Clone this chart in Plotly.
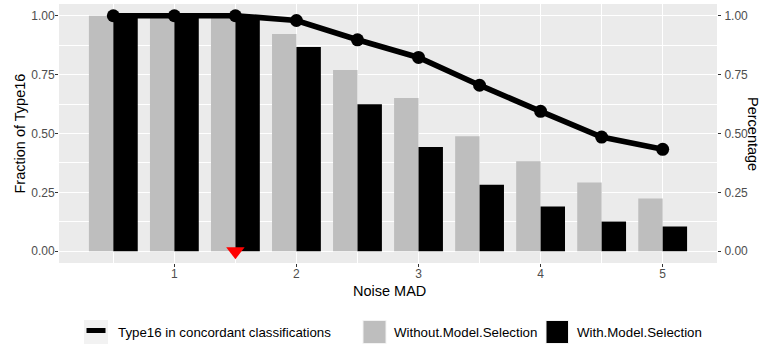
import plotly.graph_objects as go

# ---------------- data ----------------
noise_mad = [0.5, 1.0, 1.5, 2.0, 2.5, 3.0, 3.5, 4.0, 4.5, 5.0]
without_model_selection = [1.0, 1.0, 1.0, 0.923, 0.770, 0.651, 0.488, 0.382, 0.292, 0.224]
with_model_selection = [1.0, 1.0, 1.0, 0.867, 0.624, 0.443, 0.282, 0.190, 0.126, 0.105]
type16_concordant = [1.0, 1.0, 1.0, 0.980, 0.898, 0.823, 0.705, 0.594, 0.485, 0.433]
marker_x = [1.5]
marker_y = [0.0]
x_ticks = [1, 2, 3, 4, 5]
x_tick_labels = ["1", "2", "3", "4", "5"]
y_ticks = [0.0, 0.25, 0.5, 0.75, 1.0]
y_tick_labels = ["0.00", "0.25", "0.50", "0.75", "1.00"]
legend_labels = ["Type16 in concordant classifications", "Without.Model.Selection", "With.Model.Selection"]

# ---------------- layout constants ----------------
W, H = 762, 345
L, R, T, B = 59, 717, 4, 263
FONT = "Liberation Sans, Arial, Helvetica, sans-serif"
GRAY = "#BEBEBE"
PANEL = "#EBEBEB"
KEYBG = "#F2F2F2"


def px(x):
    return (x - L) / (R - L)


def py(y):
    return (B - y) / (B - T)


fig = go.Figure()
fig.add_trace(go.Bar(x=noise_mad, y=without_model_selection, marker=dict(color=GRAY, line=dict(width=0)),
                     name=legend_labels[1], showlegend=False))
fig.add_trace(go.Bar(x=noise_mad, y=with_model_selection, marker=dict(color="black", line=dict(width=0)),
                     name=legend_labels[2], showlegend=False))
fig.add_trace(go.Scatter(x=noise_mad, y=type16_concordant, mode="lines+markers",
                         line=dict(color="black", width=5.7), marker=dict(color="black", size=13),
                         name=legend_labels[0], showlegend=False, yaxis="y2"))
fig.add_trace(go.Scatter(x=marker_x, y=marker_y, mode="markers",
                         marker=dict(symbol="triangle-down", color="#FF0000", size=16, line=dict(width=0)),
                         showlegend=False, yaxis="y2"))

tickfont = dict(family=FONT, size=12, color="#4D4D4D")
common_y = dict(range=[-0.05, 1.05], tickvals=y_ticks, ticktext=y_tick_labels, ticks="outside",
                ticklen=3, tickwidth=1.1, tickcolor="#333333", tickfont=tickfont, zeroline=False,
                showline=False)

fig.update_layout(
    width=W, height=H,
    margin=dict(l=L, r=W - R, t=T, b=H - B, pad=0),
    paper_bgcolor="white", plot_bgcolor=PANEL,
    barmode="group", bargap=0.2, bargroupgap=0,
    font=dict(family=FONT, color="black"),
    xaxis=dict(range=[0.055, 5.445], tickvals=x_ticks, ticktext=x_tick_labels, ticks="outside",
               ticklen=3, tickwidth=1.1, tickcolor="#333333", tickfont=tickfont, ticklabelstandoff=-3,
               showgrid=True, gridcolor="white", gridwidth=1.1, zeroline=False, showline=False,
               minor=dict(dtick=0.5, tick0=0, showgrid=True, gridcolor="white", gridwidth=0.55, ticks="")),
    yaxis=dict(**common_y, ticklabelstandoff=-2, showgrid=True, gridcolor="white", gridwidth=1.1,
               minor=dict(dtick=0.125, tick0=0, showgrid=True, gridcolor="white", gridwidth=0.55, ticks="")),
    yaxis2=dict(**common_y, ticklabelstandoff=1, overlaying="y", side="right", showgrid=False),
)

# axis titles
fig.add_annotation(text="Noise MAD", xref="paper", yref="paper", x=px(389), y=py(291),
                   showarrow=False, font=dict(family=FONT, size=14.5, color="black"),
                   xanchor="center", yanchor="middle")
fig.add_annotation(text="Fraction of Type16", xref="paper", yref="paper", x=px(19), y=py(133.5),
                   showarrow=False, textangle=-90, font=dict(family=FONT, size=14.5, color="black"),
                   xanchor="center", yanchor="middle")
fig.add_annotation(text="Percentage", xref="paper", yref="paper", x=px(753.5), y=py(133.5),
                   showarrow=False, textangle=90, font=dict(family=FONT, size=14.5, color="black"),
                   xanchor="center", yanchor="middle")

# legend (drawn manually, ggplot-style bottom legend)
legend_y = 332
shapes = []
# line key
shapes.append(dict(type="rect", xref="paper", yref="paper", x0=px(84), x1=px(108), y0=py(344), y1=py(320),
                   fillcolor=KEYBG, line=dict(width=0), layer="above"))
shapes.append(dict(type="line", xref="paper", yref="paper", x0=px(86.5), x1=px(105.5), y0=py(330.5), y1=py(330.5),
                   line=dict(color="black", width=5), layer="above"))
# gray key
shapes.append(dict(type="rect", xref="paper", yref="paper", x0=px(362.5), x1=px(386.5), y0=py(344), y1=py(320),
                   fillcolor=KEYBG, line=dict(width=0), layer="above"))
shapes.append(dict(type="rect", xref="paper", yref="paper", x0=px(363.5), x1=px(385.5), y0=py(343), y1=py(321),
                   fillcolor=GRAY, line=dict(width=0), layer="above"))
# black key
shapes.append(dict(type="rect", xref="paper", yref="paper", x0=px(545.5), x1=px(569), y0=py(344), y1=py(320),
                   fillcolor=KEYBG, line=dict(width=0), layer="above"))
shapes.append(dict(type="rect", xref="paper", yref="paper", x0=px(546.5), x1=px(568), y0=py(343), y1=py(321),
                   fillcolor="black", line=dict(width=0), layer="above"))
fig.update_layout(shapes=shapes)

for label, x0 in zip(legend_labels, [116, 392, 575]):
    fig.add_annotation(text=label, xref="paper", yref="paper", x=px(x0), y=py(legend_y),
                       showarrow=False, xanchor="left", yanchor="middle",
                       font=dict(family=FONT, size=13.3, color="black"))

fig.write_html("out.html")
